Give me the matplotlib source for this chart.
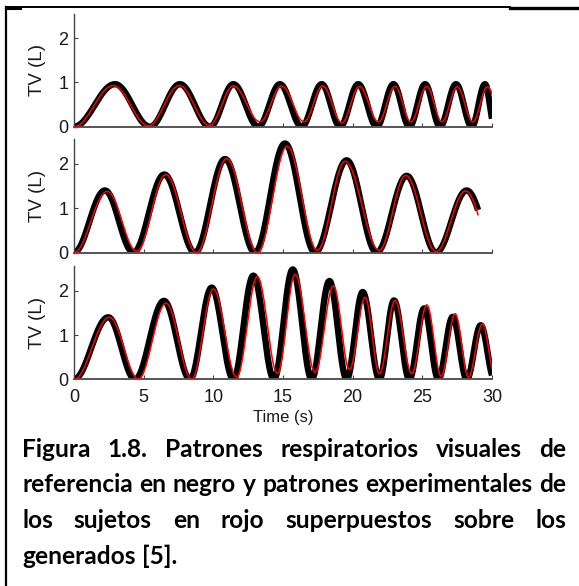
import numpy as np
import matplotlib
matplotlib.use("Agg")
import matplotlib.pyplot as plt
from matplotlib.lines import Line2D

# ---------------- data (extrema of each breathing trace) ----------
# Panel 1
p1_black_t = [0, 2.94, 5.45, 7.6, 9.76, 11.44, 13.23, 14.78, 16.34, 17.78, 19.1, 20.4,
              21.73, 22.93, 24.07, 25.2, 26.27, 27.42, 28.55, 29.5, 30.2]
p1_black_v = [0, 0.96, 0, 0.96, 0, 0.96, 0, 0.96, 0, 0.96, 0, 0.96,
              0, 0.96, 0, 0.96, 0, 0.96, 0, 0.96, 0]
p1_black_end = 30.0
p1_red_t = [0, 2.82, 5.34, 7.56, 9.71, 11.44, 13.35, 14.9, 16.51, 17.85, 19.22, 20.48,
            21.85, 23.04, 24.17, 25.32, 26.4, 27.5, 28.62, 29.67, 30.82]
p1_red_v = [0, 0.93, 0.02, 0.93, 0.03, 0.92, 0.11, 0.92, 0.11, 0.92, 0.09, 0.91,
            0.11, 0.91, 0.11, 0.91, 0.11, 0.90, 0.11, 0.90, 0.10]
p1_red_end = 30.0

# Panel 2
p2_black_t = [0, 2.22, 4.26, 6.48, 8.68, 10.84, 12.99, 15.14, 17.3, 19.57, 21.72,
              23.88, 25.98, 28.18, 30.34]
p2_black_v = [0, 1.40, 0, 1.76, 0, 2.11, 0, 2.46, 0, 2.08, 0, 1.73, 0, 1.40, 0]
p2_black_end = 29.0
p2_red_t = [0, 2.39, 4.5, 6.58, 8.8, 10.96, 13.16, 15.3, 17.46, 19.45, 21.9,
            23.8, 25.98, 28.1, 30.19]
p2_red_v = [0, 1.38, 0.03, 1.76, 0, 2.12, 0, 2.40, 0.05, 2.06, 0.05, 1.74, 0.02, 1.39, 0.02]
p2_red_end = 29.0

# Panel 3
p3_black_t = [0, 2.46, 4.38, 6.46, 8.33, 9.88, 11.44, 12.87, 14.35, 15.7, 17.06, 18.33,
              19.57, 20.72, 21.92, 22.97, 24.07, 25.13, 26.15, 27.18, 28.19, 29.19, 30.17]
p3_black_v = [0, 1.40, 0, 1.77, 0, 2.07, 0, 2.34, 0, 2.48, 0, 2.22,
              0, 1.97, 0, 1.78, 0, 1.60, 0, 1.41, 0, 1.22, 0]
p3_black_end = 30.0
p3_red_t = [0, 2.54, 4.62, 6.6, 8.45, 10.0, 11.67, 13.16, 14.6, 15.87, 17.3, 18.62,
            19.77, 20.89, 21.92, 23.04, 24.24, 25.32, 26.35, 27.35, 28.31, 29.31, 30.24]
p3_red_v = [0, 1.40, 0.01, 1.72, 0, 2.04, 0.05, 2.32, 0.13, 2.37, 0.16, 2.11,
            0.22, 1.85, 0.13, 1.78, 0.13, 1.68, 0.07, 1.48, 0.05, 1.25, 0.05]
p3_red_end = 30.0

x_ticks = [0, 5, 10, 15, 20, 25, 30]
y_ticks = [0, 1, 2]
y_label = "TV (L)"
x_label = "Time (s)"

caption_lines = [
    "Figura 1.8. Patrones respiratorios visuales de",
    "referencia en negro y patrones experimentales de",
    "los sujetos en rojo superpuestos sobre los",
    "generados [5].",
]

# ---------------- figure ----------------
W, H = 579, 586
fig = plt.figure(figsize=(W / 100, H / 100), dpi=100)
fig.patch.set_facecolor("white")


def trace(tk, vk, t_end, n=40):
    """Smooth half-cosine strokes between consecutive read extrema."""
    ts, vs = [], []
    for i in range(len(tk) - 1):
        s = np.linspace(0, 1, n, endpoint=False)
        t = tk[i] + s * (tk[i + 1] - tk[i])
        v = vk[i] + (vk[i + 1] - vk[i]) * (1 - np.cos(np.pi * s)) / 2
        ts.append(t)
        vs.append(v)
    ts = np.concatenate(ts)
    vs = np.concatenate(vs)
    j = np.searchsorted(tk, t_end) - 1
    s = (t_end - tk[j]) / (tk[j + 1] - tk[j])
    v_end = vk[j] + (vk[j + 1] - vk[j]) * (1 - np.cos(np.pi * s)) / 2
    m = ts < t_end
    return np.append(ts[m], t_end), np.append(vs[m], v_end)


panels = [
    (13.7, 126.7, (p1_black_t, p1_black_v, p1_black_end), (p1_red_t, p1_red_v, p1_red_end)),
    (139.3, 252.5, (p2_black_t, p2_black_v, p2_black_end), (p2_red_t, p2_red_v, p2_red_end)),
    (265.8, 379.3, (p3_black_t, p3_black_v, p3_black_end), (p3_red_t, p3_red_v, p3_red_end)),
]

tick_font = "Liberation Sans"
for i, (top, bot, blk, red) in enumerate(panels):
    ax = fig.add_axes([74 / W, 1 - bot / H, 418 / W, (bot - top) / H])
    ax.set_xlim(0, 30)
    ax.set_ylim(0, (bot - top) / 44.3)
    bt, bv = trace(*blk)
    rt, rv = trace(*red)
    ax.plot(bt, bv, color="black", lw=4.6, solid_capstyle="butt", zorder=2)
    ax.plot(rt, rv, color="#ff0000", lw=1.1, zorder=3)
    for side in ("top", "right"):
        ax.spines[side].set_visible(False)
    ax.spines["left"].set_color("#444444")
    ax.spines["left"].set_linewidth(1.0)
    ax.spines["bottom"].set_color("#555555")
    ax.spines["bottom"].set_linewidth(1.4)
    ax.set_xticks(x_ticks)
    ax.set_yticks(y_ticks)
    ax.tick_params(direction="in", length=3, width=0.8, colors="#444444",
                   labelcolor="#1a1a1a", labelsize=13)
    ax.tick_params(axis="y", pad=4)
    ax.tick_params(axis="x", pad=7)
    for lab in ax.get_xticklabels() + ax.get_yticklabels():
        lab.set_fontfamily(tick_font)
    if i < 2:
        ax.set_xticklabels([])
    else:
        ax.set_xlabel(x_label, fontsize=12, fontfamily=tick_font, color="#1a1a1a")
        ax.xaxis.set_label_coords(0.5, -0.272)
    ax.set_ylabel(y_label, fontsize=13.5, fontfamily=tick_font, color="#1a1a1a")
    ax.yaxis.set_label_coords(-0.066, 0.5)


# ---------------- frame lines ----------------
def fx(x):
    return x / W


def fy(y):
    return 1 - y / H


fig.add_artist(Line2D([fx(6), fx(6)], [fy(6.5), fy(586)], color="black", lw=1.6,
                      transform=fig.transFigure))
fig.add_artist(Line2D([fx(5.5), fx(510)], [fy(7.3), fy(7.3)], color="black", lw=1.4,
                      transform=fig.transFigure))
fig.add_artist(Line2D([fx(5.5), fx(20)], [fy(7.8), fy(7.8)], color="black", lw=2.2,
                      transform=fig.transFigure))
fig.add_artist(Line2D([fx(510), fx(579)], [fy(8), fy(8)], color="black", lw=2.4,
                      transform=fig.transFigure))

# ---------------- caption (justified) ----------------
fig.canvas.draw()
renderer = fig.canvas.get_renderer()
cap_font = dict(fontfamily="Lato", fontweight="bold", color="black")


def text_w(s, size):
    t = fig.text(0, 0, s, fontsize=size, **cap_font)
    w = t.get_window_extent(renderer=renderer).width
    t.remove()
    return w


left_px, right_px = 22, 566
base = 14.0
size = base * (right_px - left_px) / text_w(caption_lines[1], base)
baselines = [457, 492.5, 528, 563.5]
for li, (line, yb) in enumerate(zip(caption_lines, baselines)):
    words = line.split(" ")
    widths = [text_w(w, size) for w in words]
    if li < len(caption_lines) - 1 and len(words) > 1:
        gap = (right_px - left_px - sum(widths)) / (len(words) - 1)
    else:
        gap = text_w("a a", size) - 2 * text_w("a", size)
    x = left_px
    for w, wd in zip(words, widths):
        fig.text(fx(x), fy(yb), w, fontsize=size, va="baseline", ha="left", **cap_font)
        x += wd + gap

fig.savefig("out.png", dpi=100, facecolor="white")
